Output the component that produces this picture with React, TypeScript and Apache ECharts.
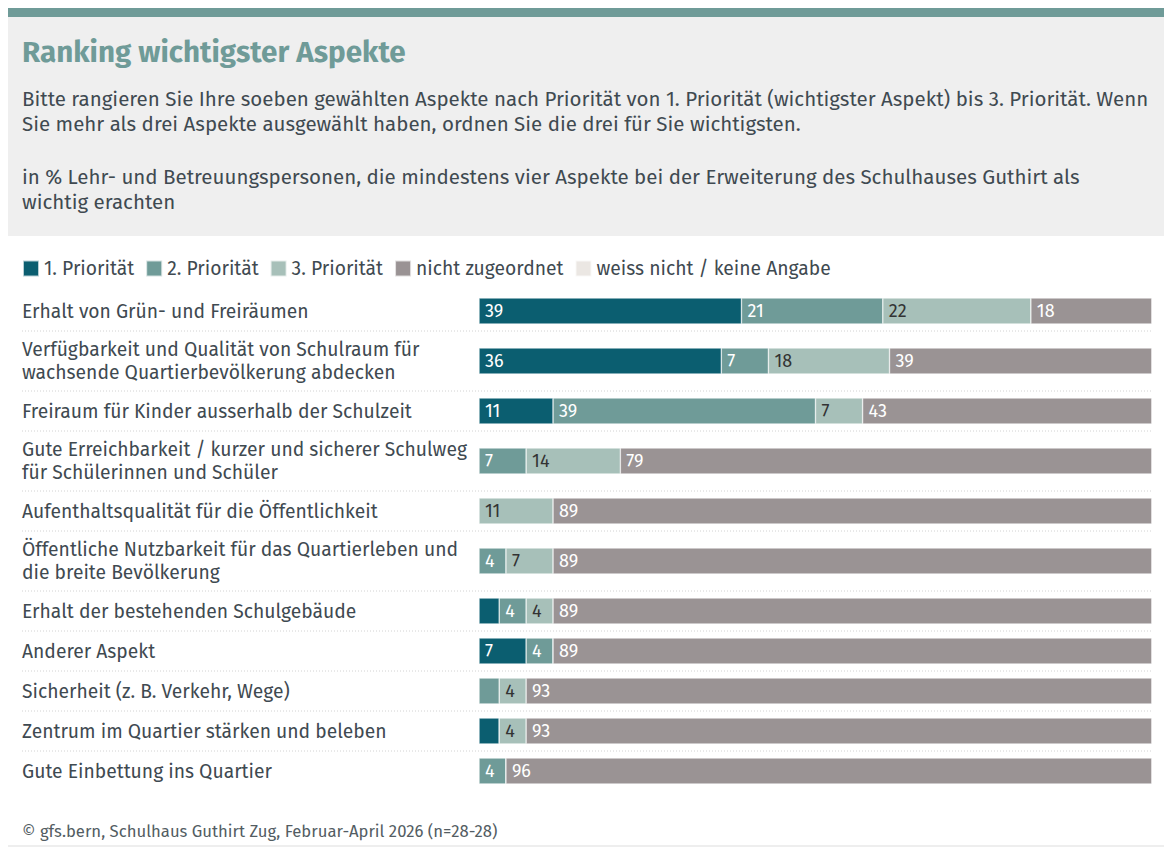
import React, { useEffect, useRef } from "react";
import * as echarts from "echarts";

const categories: string[] = [
  "Erhalt von Grün- und Freiräumen",
  "Verfügbarkeit und Qualität von Schulraum für\nwachsende Quartierbevölkerung abdecken",
  "Freiraum für Kinder ausserhalb der Schulzeit",
  "Gute Erreichbarkeit / kurzer und sicherer Schulweg\nfür Schülerinnen und Schüler",
  "Aufenthaltsqualität für die Öffentlichkeit",
  "Öffentliche Nutzbarkeit für das Quartierleben und\ndie breite Bevölkerung",
  "Erhalt der bestehenden Schulgebäude",
  "Anderer Aspekt",
  "Sicherheit (z. B. Verkehr, Wege)",
  "Zentrum im Quartier stärken und beleben",
  "Gute Einbettung ins Quartier",
];

const prio1: number[] = [39, 36, 11, 0, 0, 0, 3, 7, 0, 3, 0];
const prio2: number[] = [21, 7, 39, 7, 0, 4, 4, 4, 3, 0, 4];
const prio3: number[] = [22, 18, 7, 14, 11, 7, 4, 0, 4, 4, 0];
const notAssigned: number[] = [18, 39, 43, 79, 89, 89, 89, 89, 93, 93, 96];
const dontKnow: number[] = [0, 0, 0, 0, 0, 0, 0, 0, 0, 0, 0];

const seriesNames: string[] = [
  "1. Priorität",
  "2. Priorität",
  "3. Priorität",
  "nicht zugeordnet",
  "weiss nicht / keine Angabe",
];

const titleText = "Ranking wichtigster Aspekte";
const questionLines: string[] = [
  "Bitte rangieren Sie Ihre soeben gewählten Aspekte nach Priorität von 1. Priorität (wichtigster Aspekt) bis 3. Priorität. Wenn",
  "Sie mehr als drei Aspekte ausgewählt haben, ordnen Sie die drei für Sie wichtigsten.",
];
const baseLines: string[] = [
  "in % Lehr- und Betreuungspersonen, die mindestens vier Aspekte bei der Erweiterung des Schulhauses Guthirt als",
  "wichtig erachten",
];
const footerText = "© gfs.bern, Schulhaus Guthirt Zug, Februar-April 2026 (n=28-28)";

const FONT = "'Fira Sans', 'Noto Sans', Roboto, sans-serif";
const colors = ["#0b5e70", "#6f9b98", "#a7c0b9", "#9a9394", "#ebe7e3"];
const labelColors = ["#ffffff", "#ffffff", "#333333", "#ffffff", "#333333"];
const textColor = "#3f4a51";

export default function App() {
  const ref = useRef<HTMLDivElement>(null);

  useEffect(() => {
    document.body.style.margin = "0";
    if (!ref.current) return;
    const chart = echarts.init(ref.current, undefined, { renderer: "svg" });

    const allValues = [prio1, prio2, prio3, notAssigned, dontKnow];

    // row layout: single-line rows 40px, two-line rows 60px
    const startY = 291;
    const tops: number[] = [];
    const heights: number[] = [];
    let y = startY;
    categories.forEach((c) => {
      const h = c.includes("\n") ? 60 : 40;
      tops.push(y);
      heights.push(h);
      y += h;
    });

    const grids: any[] = [];
    const xAxes: any[] = [];
    const yAxes: any[] = [];
    const series: any[] = [];

    categories.forEach((cat, i) => {
      grids.push({ left: 479, right: 12, top: tops[i], height: heights[i], containLabel: false });
      xAxes.push({
        type: "value",
        gridIndex: i,
        min: 0,
        max: 100,
        show: false,
      });
      yAxes.push({
        type: "category",
        gridIndex: i,
        data: [cat],
        axisLine: { show: false },
        axisTick: { show: false },
        splitLine: { show: false },
        axisLabel: {
          align: "left",
          margin: 457,
          fontSize: 19.3,
          lineHeight: 23,
          color: textColor,
          fontFamily: FONT,
        },
      });
      seriesNames.forEach((name, s) => {
        series.push({
          type: "bar",
          name,
          xAxisIndex: i,
          yAxisIndex: i,
          stack: "row" + i,
          barWidth: 26,
          data: [allValues[s][i]],
          itemStyle: {
            color: colors[s],
            borderColor: "rgba(255,255,255,0.7)",
            borderWidth: 0.6,
          },
          label: {
            show: true,
            position: "insideLeft",
            distance: 6,
            fontSize: 18,
            fontFamily: FONT,
            color: labelColors[s],
            formatter: (p: any) => (p.value >= 4 ? String(p.value) : ""),
          },
          emphasis: { disabled: true },
        });
      });
    });

    const separators = tops.slice(1).map((t) => ({
      type: "line",
      shape: { x1: 22, y1: t, x2: 1152, y2: t },
      style: { stroke: "#d2d2d2", lineWidth: 1, lineDash: [1, 2] },
      silent: true,
    }));

    const textEl = (text: string, x: number, yy: number, size: number, color: string, weight = "normal") => ({
      type: "text",
      x,
      y: yy,
      style: {
        text,
        fill: color,
        font: `${weight} ${size}px ${FONT}`,
        verticalAlign: "middle",
        align: "left",
      },
      silent: true,
    });

    const graphic: any[] = [
      { type: "rect", shape: { x: 8, y: 17, width: 1156, height: 219 }, style: { fill: "#efefef" }, silent: true },
      { type: "rect", shape: { x: 8, y: 8, width: 1156, height: 9 }, style: { fill: "#6f9b98" }, silent: true },
      textEl(titleText, 22, 52, 29.6, "#6f9b98", "bold"),
      textEl(questionLines[0], 22, 99, 20.5, textColor),
      textEl(questionLines[1], 22, 124, 20.5, textColor),
      textEl(baseLines[0], 22, 177, 20.5, textColor),
      textEl(baseLines[1], 22, 202, 20.5, textColor),
      ...separators,
      textEl(footerText, 22, 831, 16.7, "#535d63"),
      { type: "line", shape: { x1: 8, y1: 846, x2: 1164, y2: 846 }, style: { stroke: "#dddddd", lineWidth: 1 }, silent: true },
    ];

    chart.setOption({
      animation: false,
      backgroundColor: "#ffffff",
      textStyle: { fontFamily: FONT },
      legend: {
        left: 22,
        top: 259,
        padding: 0,
        itemWidth: 16,
        itemHeight: 16,
        itemGap: 11,
        icon: "rect",
        data: seriesNames,
        selectedMode: false,
        textStyle: { fontSize: 19.3, color: textColor, fontFamily: FONT },
      },
      grid: grids,
      xAxis: xAxes,
      yAxis: yAxes,
      series,
      graphic,
    });

    return () => chart.dispose();
  }, []);

  return <div ref={ref} style={{ width: 1164, height: 847 }} />;
}
